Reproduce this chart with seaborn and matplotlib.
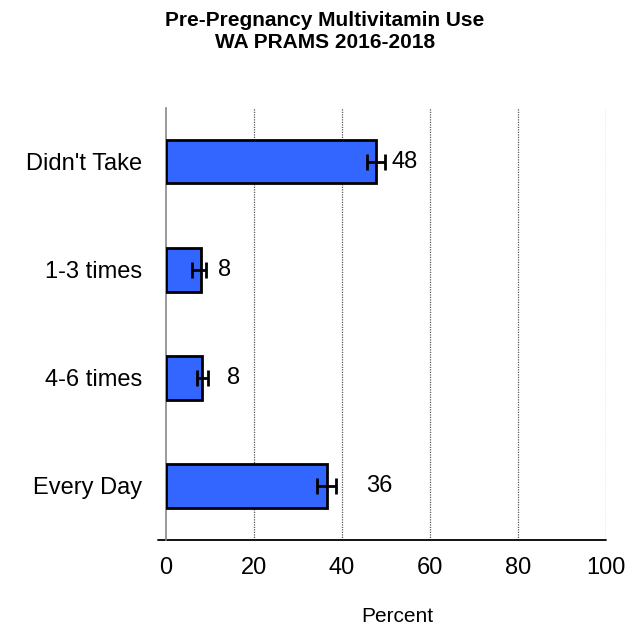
import pandas as pd
import numpy as np
from matplotlib import pyplot as plt
import seaborn as sns

# ---------------- DATA ---------------------------------------
categories = ["Didn't Take", "1-3 times", "4-6 times", "Every Day"]
percent = [47.7, 7.9, 8.2, 36.5]
ci_low = [45.6, 5.8, 7.0, 34.4]
ci_high = [49.8, 9.1, 9.6, 38.6]
labels = ["48", "8", "8", "36"]
label_x = [51.3, 11.8, 13.8, 45.5]
xticks = [0, 20, 40, 60, 80, 100]

sns.set_style("white")
plt.rcParams['font.family'] = ['Liberation Sans', 'DejaVu Sans']
plt.rcParams['text.color'] = 'black'
plt.rcParams['xtick.color'] = 'black'
plt.rcParams['ytick.color'] = 'black'
plt.rcParams['axes.labelcolor'] = 'black'

df = pd.DataFrame({'Category': categories, 'Percent': percent})

fig = plt.figure(figsize=(6.41, 6.29), dpi=100)
ax = fig.add_axes([0.259, 0.1415, 0.686, 0.687])

sns.barplot(x='Percent', y='Category', data=df, orient='h', color='#3366FF',
            width=0.4, edgecolor='black', linewidth=2, saturation=1, ax=ax, zorder=3)

ypos = np.arange(len(categories))
xerr = [np.array(percent) - np.array(ci_low), np.array(ci_high) - np.array(percent)]
ax.errorbar(percent, ypos, xerr=xerr, fmt='none', ecolor='black', elinewidth=2,
            capsize=6, capthick=2, zorder=4)

for y, lx, t in zip(ypos, label_x, labels):
    ax.text(lx, y, t, va='center', ha='left', fontsize=17, color='black', zorder=5)

ax.set_xlim(0, 100)
ax.set_ylim(len(categories) - 0.5, -0.5)
ax.set_xticks(xticks)
ax.set_xticklabels([str(v) for v in xticks], fontsize=17)
ax.tick_params(axis='x', direction='out', length=7, width=1, color='#777777', pad=5)

ax.set_yticks(np.arange(-0.5, len(categories), 1.0))
ax.set_yticklabels([''] * (len(categories) + 1))
ax.set_yticks(ypos, minor=True)
ax.set_yticklabels(categories, minor=True, fontsize=17)
ax.tick_params(axis='y', which='major', direction='out', length=8, width=1, color='#555555')
ax.tick_params(axis='y', which='minor', length=0, pad=17)

for gx in xticks[1:]:
    ax.axvline(gx, color='#555555', linestyle=(0, (1, 1)), linewidth=0.9, zorder=1)

sns.despine(ax=ax, top=True, right=True)
ax.spines['left'].set_color('#888888')
ax.spines['left'].set_linewidth(1.2)
ax.spines['bottom'].set_visible(False)
ax.plot([-1.8, 100], [len(categories) - 0.5] * 2, color='black', linewidth=1.3,
        clip_on=False, zorder=2)

ax.set_xlabel('Percent', fontsize=15, va='center')
ax.xaxis.set_label_coords(0.527, -0.178)
ax.set_ylabel('')
fig.suptitle('Pre-Pregnancy Multivitamin Use\nWA PRAMS 2016-2018', fontsize=15,
             fontweight='bold', x=0.507, y=0.983, linespacing=1.2, color='black')

plt.savefig('out.png', dpi=100)
